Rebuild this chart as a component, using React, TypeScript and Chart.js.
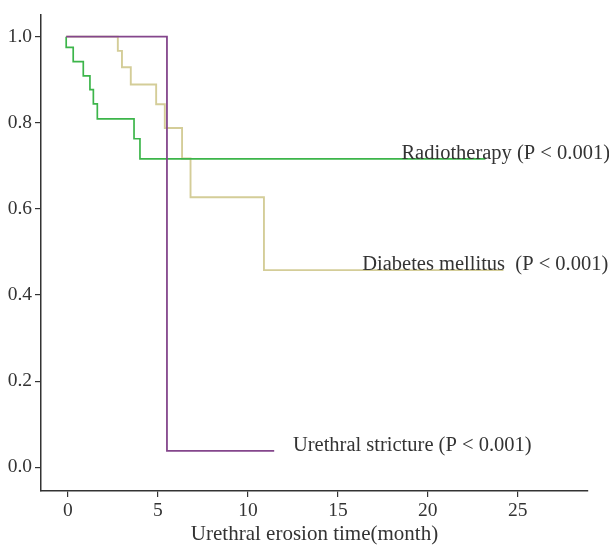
import React, { useEffect, useRef } from "react";
import { Chart, registerables } from "chart.js";

Chart.register(...registerables);

// Urethral stricture (purple)
const strictureTime = [-0.1, 5.5, 11.46];
const strictureSurvival = [1.0, 0.038, 0.038];

// Radiotherapy (green)
const radioTime = [-0.1, -0.1, 0.29, 0.85, 1.22, 1.41, 1.63, 3.67, 4.0, 23.2];
const radioSurvival = [1.0, 0.975, 0.942, 0.909, 0.877, 0.844, 0.809, 0.763, 0.716, 0.716];

// Diabetes mellitus (khaki)
const diabetesTime = [-0.1, 2.77, 3.0, 3.49, 4.9, 5.38, 6.34, 6.81, 10.89, 24.2];
const diabetesSurvival = [1.0, 0.967, 0.929, 0.889, 0.843, 0.788, 0.717, 0.627, 0.458, 0.458];

const seriesNames = ["Urethral stricture", "Radiotherapy", "Diabetes mellitus"];
const curveLabels = [
  "Urethral stricture (P < 0.001)",
  "Radiotherapy (P < 0.001)",
  "Diabetes mellitus  (P < 0.001)",
];
const xTicks = [0, 5, 10, 15, 20, 25];
const yTicks = [0, 0.2, 0.4, 0.6, 0.8, 1.0];
const xTitle = "Urethral erosion time(month)";

const FONT = '"Liberation Serif", "Times New Roman", serif';
const TEXT = "#333333";

const toPoints = (t: number[], s: number[]) => t.map((v, i) => ({ x: v, y: s[i] }));

// label anchor x (in data units) for each curve label
const labelAnchorX = [12.5, 18.53, 16.35];

const labelPlugin = {
  id: "curveLabels",
  afterDatasetsDraw(chart: any) {
    const { ctx, scales } = chart;
    const xs = scales.x;
    const ys = scales.y;
    ctx.save();
    ctx.font = `20.5px ${FONT}`;
    ctx.fillStyle = TEXT;
    ctx.textBaseline = "alphabetic";
    ctx.textAlign = "left";
    chart.data.datasets.forEach((ds: any, i: number) => {
      const last = ds.data[ds.data.length - 1];
      ctx.fillText(curveLabels[i], xs.getPixelForValue(labelAnchorX[i]), ys.getPixelForValue(last.y));
    });
    ctx.restore();
  },
};

export default function App() {
  const ref = useRef<HTMLCanvasElement | null>(null);
  useEffect(() => {
    if (!ref.current) return;
    const chart = new Chart(ref.current, {
      type: "line",
      data: {
        datasets: [
          {
            label: seriesNames[0],
            data: toPoints(strictureTime, strictureSurvival),
            borderColor: "#84468c",
            borderWidth: 1.8,
            stepped: "before",
            pointRadius: 0,
            fill: false,
          },
          {
            label: seriesNames[1],
            data: toPoints(radioTime, radioSurvival),
            borderColor: "#3cb54a",
            borderWidth: 1.7,
            stepped: "before",
            pointRadius: 0,
            fill: false,
          },
          {
            label: seriesNames[2],
            data: toPoints(diabetesTime, diabetesSurvival),
            borderColor: "#d4cd98",
            borderWidth: 1.9,
            stepped: "before",
            pointRadius: 0,
            fill: false,
          },
        ],
      },
      options: {
        animation: false,
        responsive: false,
        devicePixelRatio: 1,
        parsing: false as any,
        layout: { padding: { left: 0, right: 21, top: 12, bottom: 0 } },
        plugins: { legend: { display: false }, tooltip: { enabled: false } },
        scales: {
          x: {
            type: "linear",
            min: -1.5,
            max: 28.9,
            afterBuildTicks: (s: any) => {
              s.ticks = xTicks.map((v) => ({ value: v }));
            },
            afterFit: (s: any) => {
              s.height = 54;
            },
            grid: {
              display: true,
              drawOnChartArea: false,
              drawTicks: true,
              tickLength: 6,
              color: TEXT,
              lineWidth: 1.2,
            },
            border: { display: true, color: TEXT, width: 1.5 },
            ticks: {
              font: { family: FONT, size: 19.5 },
              color: TEXT,
              padding: 2,
              maxRotation: 0,
              autoSkip: false,
              callback: (v: any) => String(v),
            },
            title: {
              display: true,
              text: xTitle,
              color: TEXT,
              font: { family: FONT, size: 21, lineHeight: 1.0 },
              padding: { top: 0, bottom: 0 },
            },
          },
          y: {
            type: "linear",
            min: -0.055,
            max: 1.051,
            afterBuildTicks: (s: any) => {
              s.ticks = yTicks.map((v) => ({ value: v }));
            },
            afterFit: (s: any) => {
              s.width = 41;
            },
            grid: {
              display: true,
              drawOnChartArea: false,
              drawTicks: true,
              tickLength: 6,
              color: TEXT,
              lineWidth: 1.2,
            },
            border: { display: true, color: TEXT, width: 1.5 },
            ticks: {
              font: { family: FONT, size: 19.5 },
              color: TEXT,
              padding: 3,
              autoSkip: false,
              callback: (v: any) => Number(v).toFixed(1),
            },
          },
        },
      },
      plugins: [labelPlugin],
    });
    return () => chart.destroy();
  }, []);

  return (
    <div style={{ position: "fixed", left: 0, top: 0, width: 609, height: 545, background: "#fff" }}>
      <canvas ref={ref} width={609} height={545} style={{ display: "block" }} />
    </div>
  );
}
